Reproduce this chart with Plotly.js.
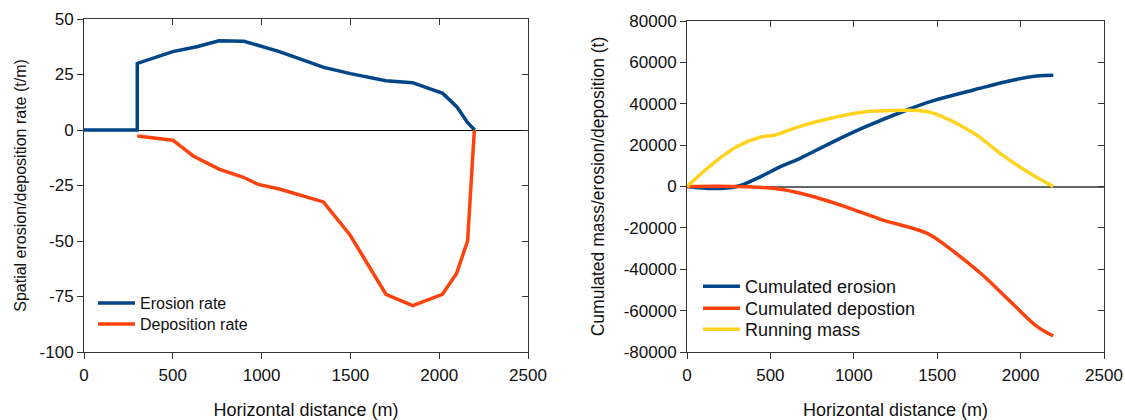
<!DOCTYPE html>
<html>
<head>
<meta charset="utf-8">
<script src="https://cdn.plot.ly/plotly-3.0.1.min.js"></script>
<style>html,body{margin:0;padding:0;background:#fff;}#chart{width:1125px;height:420px;}</style>
</head>
<body>
<div id="chart"></div>
<script>
// ---- Left panel data (t/m) ----
const erosionRateX = [0, 300, 300, 500, 635, 760, 900, 1100, 1350, 1500, 1700, 1850, 2020, 2100, 2160, 2200];
const erosionRateY = [0, 0, 30, 35.3, 37.5, 40.2, 40, 35.3, 28.2, 25.4, 22.2, 21.3, 16.5, 10.4, 3.3, 0];
const depositionRateX = [300, 500, 615, 760, 897, 981, 1100, 1348, 1498, 1700, 1851, 2018, 2098, 2160, 2198];
const depositionRateY = [-2.7, -4.6, -11.7, -17.6, -21.3, -24.5, -26.6, -32.4, -47.3, -74, -79.1, -74, -64.6, -49.9, 0];

// ---- Right panel data (t) ----
const cumErosionX = [0, 158, 298, 420, 560, 678, 858, 1058, 1318, 1478, 1718, 1958, 2098, 2196];
const cumErosionY = [0, -1000, 0, 3960, 9570, 13630, 20880, 28420, 36980, 41480, 46650, 51480, 53410, 53750];
const cumDepositionX = [0, 298, 560, 760, 960, 1160, 1440, 1560, 1760, 1960, 2100, 2196];
const cumDepositionY = [0, 0, -1350, -4930, -10050, -15850, -22620, -29100, -41960, -57280, -67770, -72260];
const runningMassX = [0, 158, 298, 438, 528, 658, 860, 1060, 1200, 1399, 1480, 1720, 1877, 2040, 2196];
const runningMassY = [0, 11210, 19240, 23780, 24890, 28600, 32960, 36010, 36650, 36650, 35380, 25710, 16050, 7150, 0];

// ---- Tick labels ----
const xTickVals = [0, 500, 1000, 1500, 2000, 2500];
const xTickText = ['0', '500', '1000', '1500', '2000', '2500'];
const rateTickVals = [50, 25, 0, -25, -50, -75, -100];
const rateTickText = ['50', '25', '0', '-25', '-50', '-75', '-100'];
const massTickVals = [80000, 60000, 40000, 20000, 0, -20000, -40000, -60000, -80000];
const massTickText = ['80000', '60000', '40000', '20000', '0', '-20000', '-40000', '-60000', '-80000'];

const BLUE = '#004586', ORANGE = '#ff420e', YELLOW = '#ffd320';
const AX = '#333333';
const TXT = '#111111';

const traces = [
  {x: erosionRateX, y: erosionRateY, xaxis: 'x', yaxis: 'y', mode: 'lines', name: 'Erosion rate',
   line: {color: BLUE, width: 3.5}, legend: 'legend'},
  {x: depositionRateX, y: depositionRateY, xaxis: 'x', yaxis: 'y', mode: 'lines', name: 'Deposition rate',
   line: {color: ORANGE, width: 3.5}, legend: 'legend2'},
  {x: cumErosionX, y: cumErosionY, xaxis: 'x2', yaxis: 'y2', mode: 'lines', name: 'Cumulated erosion',
   line: {color: BLUE, width: 3.5, shape: 'spline', smoothing: 1}, legend: 'legend3'},
  {x: cumDepositionX, y: cumDepositionY, xaxis: 'x2', yaxis: 'y2', mode: 'lines', name: 'Cumulated depostion',
   line: {color: ORANGE, width: 3.5, shape: 'spline', smoothing: 1}, legend: 'legend4'},
  {x: runningMassX, y: runningMassY, xaxis: 'x2', yaxis: 'y2', mode: 'lines', name: 'Running mass',
   line: {color: YELLOW, width: 3.5, shape: 'spline', smoothing: 1}, legend: 'legend5'},
  // empty traces to activate mirror-tick axes
  {x: [], y: [], xaxis: 'x3', yaxis: 'y3', mode: 'lines', showlegend: false, hoverinfo: 'skip'},
  {x: [], y: [], xaxis: 'x4', yaxis: 'y4', mode: 'lines', showlegend: false, hoverinfo: 'skip'}
];

const yDomL = [1 - 352 / 420, 1 - 19 / 420];
const yDomR = [1 - 352 / 420, 1 - 21 / 420];
const xDomL = [84 / 1125, 528 / 1125];
const xDomR = [687 / 1125, 1104 / 1125];

function baseX(dom, anchor) {
  return {domain: dom, anchor: anchor, range: [0, 2500], tickmode: 'array', tickvals: xTickVals, ticktext: xTickText,
    ticks: 'outside', ticklen: 6, tickwidth: 1, tickcolor: AX, showline: true, linecolor: AX, linewidth: 1,
    mirror: true, showgrid: false, zeroline: false, fixedrange: true, ticklabelstandoff: 2,
    tickfont: {size: 17, color: TXT},
    title: {text: 'Horizontal distance (m)', font: {size: 18, color: TXT}, standoff: 19}};
}
function mirrorX(over, anchor) {
  return {overlaying: over, anchor: anchor, side: 'top', range: [0, 2500], tickmode: 'array', tickvals: xTickVals,
    ticks: 'inside', ticklen: 6, tickcolor: AX, showticklabels: false, showline: false, showgrid: false,
    zeroline: false, fixedrange: true};
}
function leg(xPx, topPx, size) {
  return {x: xPx / 1125, xanchor: 'left', y: 1 - topPx / 420, yanchor: 'top', bgcolor: 'rgba(0,0,0,0)',
    borderwidth: 0, font: {size: size, color: TXT}, tracegroupgap: 0, itemwidth: 37};
}

const layout = {
  width: 1125, height: 420,
  margin: {l: 0, r: 0, t: 0, b: 0},
  paper_bgcolor: '#ffffff', plot_bgcolor: '#ffffff',
  font: {family: '"Liberation Sans", Arial, sans-serif', size: 16, color: TXT},
  showlegend: true,
  xaxis: baseX(xDomL, 'y'),
  yaxis: {domain: yDomL, anchor: 'x', range: [-100, 50], tickmode: 'array', tickvals: rateTickVals, ticktext: rateTickText,
    ticks: 'outside', ticklen: 6, tickcolor: AX, showline: true, linecolor: AX, linewidth: 1, mirror: true,
    showgrid: false, zeroline: true, zerolinecolor: '#000000', zerolinewidth: 1, fixedrange: true,
    tickfont: {size: 17, color: TXT},
    title: {text: 'Spatial erosion/deposition rate (t/m)', font: {size: 16, color: TXT}, standoff: 8}},
  xaxis2: baseX(xDomR, 'y2'),
  yaxis2: {domain: yDomR, anchor: 'x2', range: [-80000, 80000], tickmode: 'array', tickvals: massTickVals, ticktext: massTickText,
    ticks: 'outside', ticklen: 6, tickcolor: AX, showline: true, linecolor: AX, linewidth: 1, mirror: true,
    showgrid: false, zeroline: true, zerolinecolor: '#666666', zerolinewidth: 2, fixedrange: true,
    tickfont: {size: 17, color: TXT},
    title: {text: 'Cumulated mass/erosion/deposition (t)', font: {size: 17.5, color: TXT}, standoff: 14}},
  xaxis3: mirrorX('x', 'y'),
  yaxis3: {overlaying: 'y', anchor: 'x', side: 'right', range: [-100, 50], tickmode: 'array', tickvals: rateTickVals,
    ticks: 'inside', ticklen: 6, tickcolor: AX, showticklabels: false, showline: false, showgrid: false, zeroline: false, fixedrange: true},
  xaxis4: mirrorX('x2', 'y2'),
  yaxis4: {overlaying: 'y2', anchor: 'x2', side: 'right', range: [-80000, 80000], tickmode: 'array', tickvals: massTickVals,
    ticks: 'inside', ticklen: 6, tickcolor: AX, showticklabels: false, showline: false, showgrid: false, zeroline: false, fixedrange: true},
  legend: leg(93, 286, 16),
  legend2: leg(93, 307, 16),
  legend3: leg(698, 268, 18),
  legend4: leg(698, 290, 18),
  legend5: leg(698, 311, 18)
};

Plotly.newPlot('chart', traces, layout, {staticPlot: true, displayModeBar: false});
</script>
</body>
</html>
